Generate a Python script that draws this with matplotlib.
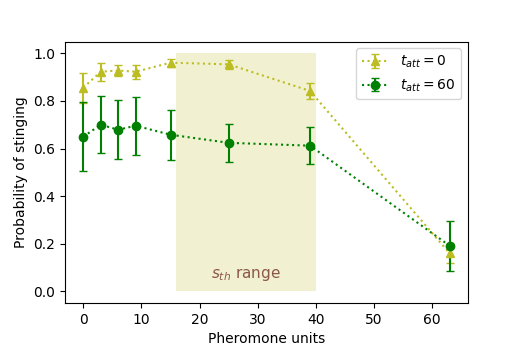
import matplotlib
matplotlib.use("Agg")
import matplotlib.pyplot as plt
import numpy as np

# pheromone units
pheromone = np.array([0, 3, 6, 9, 15, 25, 39, 63])

# probability of stinging, t_att = 0
p_att0 = np.array([0.856, 0.923, 0.928, 0.923, 0.961, 0.954, 0.842, 0.159])
err_att0 = np.array([0.063, 0.038, 0.025, 0.030, 0.017, 0.018, 0.035, 0.040])

# probability of stinging, t_att = 60
p_att60 = np.array([0.650, 0.700, 0.679, 0.696, 0.658, 0.624, 0.612, 0.191])
err_att60 = np.array([0.145, 0.120, 0.123, 0.122, 0.105, 0.080, 0.078, 0.105])

sth_lo, sth_hi = 16, 40

fig, ax = plt.subplots(figsize=(5.2, 3.46), dpi=100)
fig.subplots_adjust(left=0.125, right=0.9, top=0.88, bottom=0.124)

ax.fill_between([sth_lo, sth_hi], 0, 1, color="tab:olive", alpha=0.2, linewidth=0)
ax.text((sth_lo + sth_hi) / 2, 0.07, r"$s_{th}$ range", color="tab:brown",
        ha="center", va="center", fontsize=11)

ax.errorbar(pheromone, p_att0, yerr=err_att0, color="tab:olive", ls=":",
            marker="^", capsize=3, label=r"$t_{att}=0$")
ax.errorbar(pheromone, p_att60, yerr=err_att60, color="green", ls=":",
            marker="o", capsize=3, label=r"$t_{att}=60$")

ax.set_xlabel("Pheromone units")
ax.set_ylabel("Probability of stinging")
ax.legend(loc="upper right")

plt.savefig("out.png", dpi=100)
